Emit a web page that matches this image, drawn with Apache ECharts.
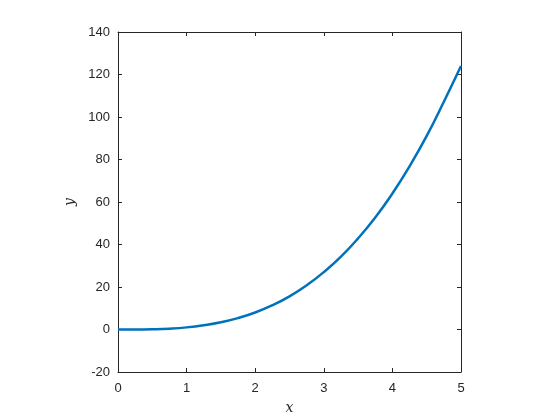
<!DOCTYPE html>
<html>
<head>
<meta charset="utf-8">
<script src="https://cdn.jsdelivr.net/npm/echarts@6/dist/echarts.min.js"></script>
<style>
  html, body { margin: 0; padding: 0; background: #fff; }
  #main { width: 560px; height: 420px; }
</style>
</head>
<body>
<div id="main"></div>
<script>
// values
var xValues = [0, 0.25, 0.5, 0.75, 1, 1.25, 1.5, 1.75, 2, 2.25, 2.5, 2.75, 3, 3.25, 3.5, 3.75, 4, 4.25, 4.5, 4.75, 5];
var yValues = [0, 0, 0.1, 0.4, 1, 2, 3.4, 5.4, 8, 11.4, 15.6, 20.8, 27, 34.3, 42.9, 52.7, 64, 76.8, 91.1, 107.2, 124];
var xTicks = [0, 1, 2, 3, 4, 5];
var yTicks = [-20, 0, 20, 40, 60, 80, 100, 120, 140];

var chart = echarts.init(document.getElementById('main'), null, { renderer: 'canvas' });

var pts = [];
for (var i = 0; i < xValues.length; i++) {
  pts.push([xValues[i], yValues[i]]);
}

var axisColor = '#262626';
var labelFont = { color: axisColor, fontSize: 13, fontFamily: 'Liberation Sans, Arial, sans-serif' };
var nameFont = { color: axisColor, fontSize: 14, fontStyle: 'italic', fontFamily: 'DejaVu Serif, Liberation Serif, serif' };

function baseAxis(pos, min, max, step, showLabel, margin) {
  return {
    type: 'value',
    position: pos,
    min: min,
    max: max,
    interval: step,
    splitLine: { show: false },
    axisLine: { show: true, onZero: false, lineStyle: { color: axisColor, width: 1 } },
    axisTick: { show: true, inside: true, length: 4, lineStyle: { color: axisColor } },
    axisLabel: Object.assign({ show: showLabel, margin: margin }, labelFont)
  };
}

var xMain = baseAxis('bottom', xTicks[0], xTicks[xTicks.length - 1], 1, true, 10);
xMain.name = 'x';
xMain.nameLocation = 'middle';
xMain.nameGap = 29;
xMain.nameTextStyle = nameFont;

var yMain = baseAxis('left', yTicks[0], yTicks[yTicks.length - 1], 20, true, 8);
yMain.name = 'y';
yMain.nameLocation = 'middle';
yMain.nameGap = 38;
yMain.nameTextStyle = nameFont;

var option = {
  backgroundColor: '#ffffff',
  animation: false,
  grid: { left: 118, top: 32, width: 343, height: 341, containLabel: false },
  xAxis: [xMain, baseAxis('top', xTicks[0], xTicks[xTicks.length - 1], 1, false, 8)],
  yAxis: [yMain, baseAxis('right', yTicks[0], yTicks[yTicks.length - 1], 20, false, 8)],
  series: [{
    type: 'line',
    data: pts,
    smooth: true,
    showSymbol: false,
    lineStyle: { color: '#0072BD', width: 2.5 },
    xAxisIndex: 0,
    yAxisIndex: 0
  }]
};

chart.setOption(option);
</script>
</body>
</html>
